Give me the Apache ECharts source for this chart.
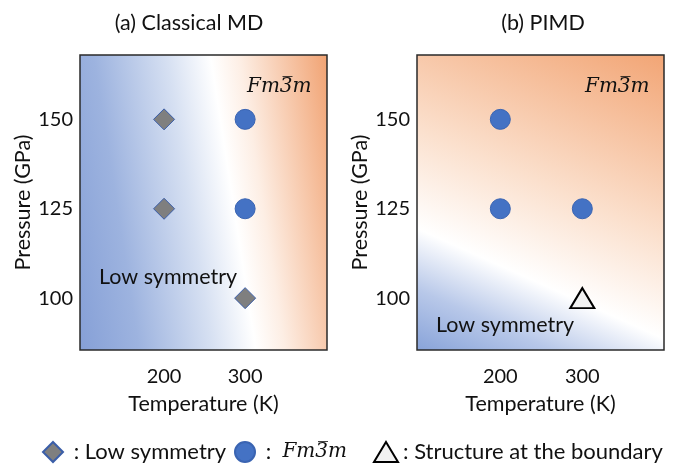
<!DOCTYPE html>
<html>
<head>
<meta charset="utf-8">
<script src="https://cdn.jsdelivr.net/npm/echarts@6/dist/echarts.min.js"></script>
<style>html,body{margin:0;padding:0;background:#fff}#c{width:679px;height:468px}</style>
</head>
<body>
<div id="c"></div>
<script>
// ---- data ----
const xTicks = [200, 300];
const yTicks = [100, 125, 150];
const classicalLowSym = [[200, 150], [200, 125], [300, 100]];
const classicalFm3m = [[300, 150], [300, 125]];
const pimdFm3m = [[200, 150], [200, 125], [300, 125]];
const pimdBoundary = [[300, 100]];
const panelTitles = ['(a) Classical MD', '(b) PIMD'];
const FM = 'Fm3\u0305m';

const SANS = 'Lato, "Open Sans", sans-serif';
const SERIF = '"DejaVu Serif", serif';
const FS = 21.5;

const chart = echarts.init(document.getElementById('c'), null, {renderer: 'canvas'});

const gridLeftBg = {
  type: 'linear', global: true, x: 62, y: 228, x2: 347, y2: 184,
  colorStops: [
    {offset: 0, color: '#86a0d7'},
    {offset: 0.2, color: '#9db3df'},
    {offset: 0.45, color: '#d6e0f2'},
    {offset: 0.6, color: '#ffffff'},
    {offset: 0.7, color: '#fdeee4'},
    {offset: 1, color: '#f1a373'}
  ]
};
const gridRightBg = {
  type: 'linear', global: true, x: 495, y: 385, x2: 646, y2: 47,
  colorStops: [
    {offset: 0, color: '#88a3d9'},
    {offset: 0.15, color: '#b8c8e9'},
    {offset: 0.3, color: '#ffffff'},
    {offset: 0.55, color: '#fbe0cd'},
    {offset: 1, color: '#f2a575'}
  ]
};

function xAxis(gi, min, max) {
  return {
    gridIndex: gi, type: 'value', min: min, max: max,
    name: 'Temperature (K)', nameLocation: 'middle', nameGap: 43,
    nameTextStyle: {fontFamily: SANS, fontSize: FS, color: '#111'},
    axisLine: {show: false}, axisTick: {show: false}, splitLine: {show: false},
    axisLabel: {customValues: xTicks, fontFamily: SANS, fontSize: 20, color: '#111', margin: 17}
  };
}
function yAxis(gi) {
  return {
    gridIndex: gi, type: 'value', min: 85.5, max: 168,
    name: 'Pressure (GPa)', nameLocation: 'middle', nameGap: 45,
    nameTextStyle: {fontFamily: SANS, fontSize: FS, color: '#111'},
    axisLine: {show: false}, axisTick: {show: false}, splitLine: {show: false},
    axisLabel: {customValues: yTicks, fontFamily: SANS, fontSize: 20, color: '#111', margin: 7}
  };
}

const diamondStyle = {color: '#7f7f7f', borderColor: '#3b5ea8', borderWidth: 1, opacity: 1};
const circleStyle = {color: '#4472c4', borderColor: '#3a64b2', borderWidth: 1, opacity: 1};
const triStyle = {color: '#f2f2f2', borderColor: '#000', borderWidth: 2, opacity: 1};

const legendText = {fontFamily: SANS, fontSize: 22, color: '#111'};

chart.setOption({
  animation: false,
  title: [
    {text: panelTitles[0], left: 184, top: 7, textAlign: 'center',
     textStyle: {fontFamily: SANS, fontSize: FS, fontWeight: 'normal', color: '#111'}},
    {text: panelTitles[1], left: 538, top: 7, textAlign: 'center',
     textStyle: {fontFamily: SANS, fontSize: FS, fontWeight: 'normal', color: '#111'}}
  ],
  grid: [
    {left: 80, top: 55, width: 247, height: 295, show: true, backgroundColor: gridLeftBg, borderColor: '#2a2a2a', borderWidth: 1.5},
    {left: 417, top: 55, width: 247, height: 295, show: true, backgroundColor: gridRightBg, borderColor: '#2a2a2a', borderWidth: 1.5}
  ],
  xAxis: [xAxis(0, 96.3, 401), xAxis(1, 98.4, 399.6)],
  yAxis: [yAxis(0), yAxis(1)],
  legend: [
    {left: 42, top: 441, padding: 0, itemWidth: 20, itemHeight: 20, itemGap: 0, data: ['Low symmetry'],
     formatter: () => ' : Low symmetry', textStyle: legendText, selectedMode: false},
    {left: 234, top: 441, padding: 0, itemWidth: 20, itemHeight: 20, itemGap: 0, data: ['Fm3m'],
     formatter: () => '{a| :  }{b|' + FM + '}', selectedMode: false,
     textStyle: {rich: {a: legendText, b: {fontFamily: SERIF, fontStyle: 'italic', fontSize: 20, color: '#111'}}}},
    {left: 373, top: 441, padding: 0, itemWidth: 24, itemHeight: 20, itemGap: 0, data: ['Structure at the boundary'],
     formatter: () => ': Structure at the boundary', textStyle: legendText, selectedMode: false}
  ],
  graphic: [
    {type: 'text', x: 247, y: 87, style: {text: FM, font: 'italic 20px ' + SERIF, fill: '#111', verticalAlign: 'middle'}},
    {type: 'text', x: 585, y: 87, style: {text: FM, font: 'italic 20px ' + SERIF, fill: '#111', verticalAlign: 'middle'}},
    {type: 'text', x: 99, y: 277, style: {text: 'Low symmetry', font: FS + 'px ' + SANS, fill: '#111', verticalAlign: 'middle'}},
    {type: 'text', x: 436, y: 325, style: {text: 'Low symmetry', font: FS + 'px ' + SANS, fill: '#111', verticalAlign: 'middle'}}
  ],
  series: [
    {name: 'Low symmetry', type: 'scatter', xAxisIndex: 0, yAxisIndex: 0, symbol: 'diamond', symbolSize: 21, itemStyle: diamondStyle, data: classicalLowSym},
    {name: 'Fm3m', type: 'scatter', xAxisIndex: 0, yAxisIndex: 0, symbol: 'circle', symbolSize: 20, itemStyle: circleStyle, data: classicalFm3m},
    {name: 'Fm3m', type: 'scatter', xAxisIndex: 1, yAxisIndex: 1, symbol: 'circle', symbolSize: 20, itemStyle: circleStyle, data: pimdFm3m},
    {name: 'Structure at the boundary', type: 'scatter', xAxisIndex: 1, yAxisIndex: 1, symbol: 'triangle', symbolSize: [24, 20], itemStyle: triStyle, data: pimdBoundary}
  ]
});
</script>
</body>
</html>
